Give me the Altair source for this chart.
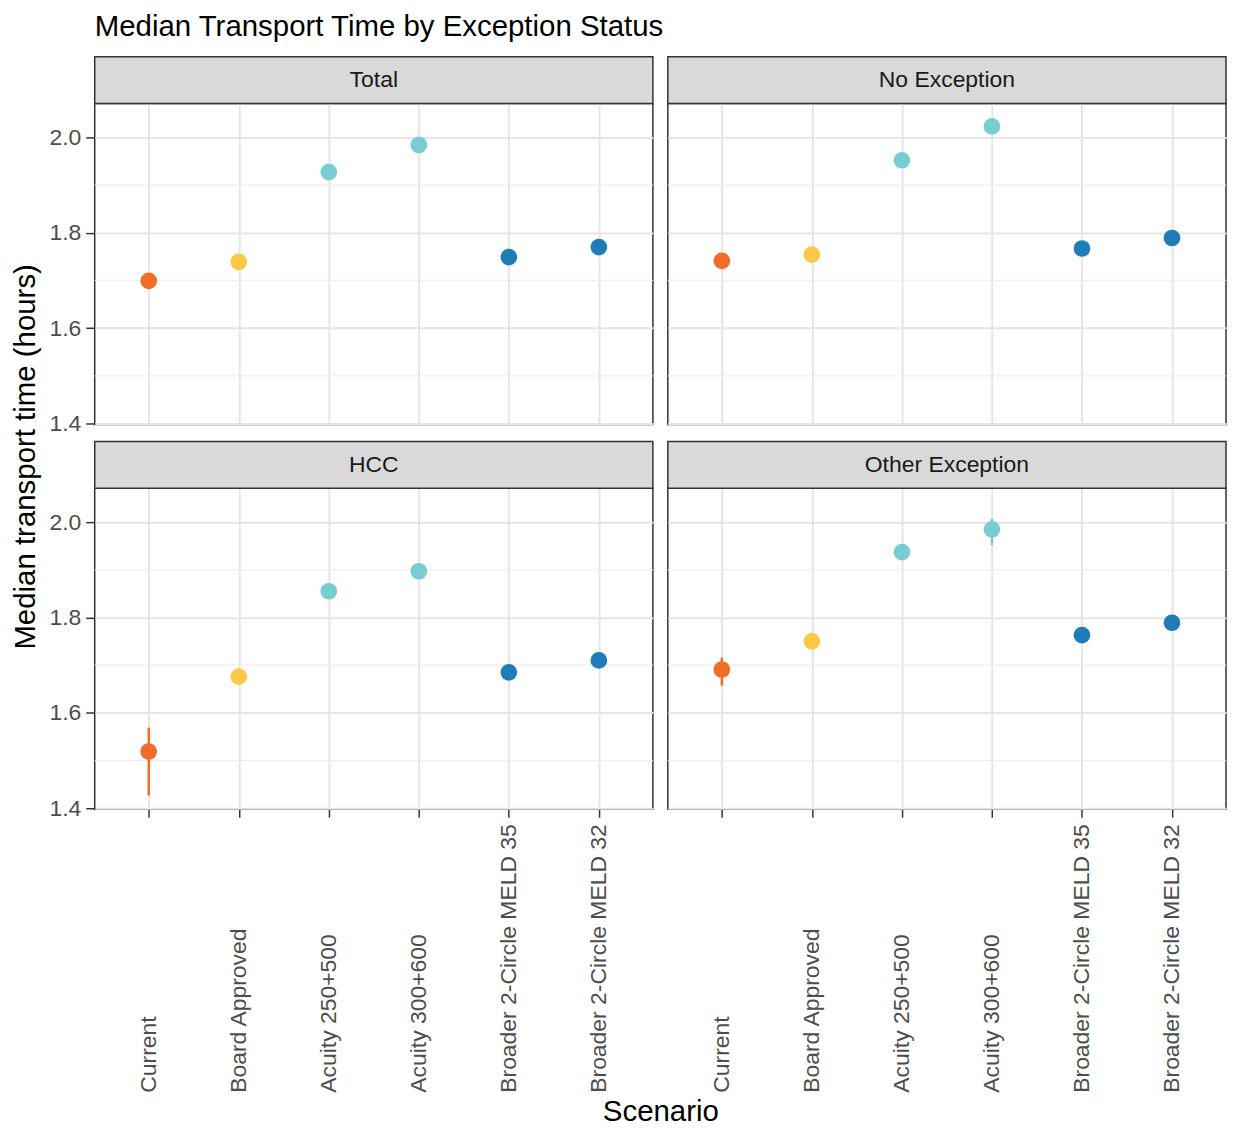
import altair as alt
import pandas as pd

# ---------------- data ----------------
scenarios = [
    "Current",
    "Board Approved",
    "Acuity 250+500",
    "Acuity 300+600",
    "Broader 2-Circle MELD 35",
    "Broader 2-Circle MELD 32",
]
scenario_colors = ["#F06E28", "#FDC846", "#78CDD2", "#78CDD2", "#1E7DB9", "#1E7DB9"]

panel_names = ["Total", "No Exception", "HCC", "Other Exception"]

total_median = [1.699, 1.739, 1.927, 1.984, 1.749, 1.770]
total_low = [1.692, 1.733, 1.921, 1.977, 1.743, 1.764]
total_high = [1.706, 1.745, 1.933, 1.991, 1.755, 1.776]

noexc_median = [1.741, 1.754, 1.952, 2.023, 1.767, 1.789]
noexc_low = [1.734, 1.748, 1.946, 2.016, 1.761, 1.783]
noexc_high = [1.748, 1.760, 1.958, 2.030, 1.773, 1.795]

hcc_median = [1.519, 1.676, 1.855, 1.897, 1.685, 1.710]
hcc_low = [1.427, 1.668, 1.847, 1.889, 1.678, 1.702]
hcc_high = [1.569, 1.684, 1.863, 1.905, 1.692, 1.718]

other_median = [1.691, 1.750, 1.937, 1.985, 1.763, 1.789]
other_low = [1.657, 1.741, 1.929, 1.952, 1.756, 1.782]
other_high = [1.716, 1.759, 1.945, 2.007, 1.770, 1.796]

y_ticks = [1.4, 1.6, 1.8, 2.0]
y_minor = [1.5, 1.7, 1.9]
y_domain = [1.398, 2.071]

panel_values = {
    "Total": (total_median, total_low, total_high),
    "No Exception": (noexc_median, noexc_low, noexc_high),
    "HCC": (hcc_median, hcc_low, hcc_high),
    "Other Exception": (other_median, other_low, other_high),
}

# ---------------- styling ----------------
W = 560
H = 322
GAP = 15
STRIP = 47
FONT = "Liberation Sans"
GRID_MAJOR = "#E5E5E5"
GRID_MINOR = "#EEEEEE"
DARK = "#333333"
LABEL = "#4D4D4D"

x_scale = alt.Scale(type="point", domain=scenarios, padding=0.6)
y_scale = alt.Scale(domain=y_domain, nice=False, zero=False)
color = alt.Color(
    "Scenario:N",
    scale=alt.Scale(domain=scenarios, range=scenario_colors),
    legend=None,
)


def x_axis(bottom, with_title):
    kw = dict(
        grid=True,
        gridColor=GRID_MAJOR,
        gridWidth=2,
        domain=False,
    )
    if bottom:
        kw.update(
            labels=True,
            labelAngle=270,
            labelAlign="left",
            labelBaseline="middle",
            labelPadding=276,
            labelLimit=400,
            labelOverlap=False,
            labelFontSize=23,
            labelColor=LABEL,
            labelFont=FONT,
            ticks=True,
            tickSize=8,
            tickWidth=1.5,
            tickColor=DARK,
        )
    else:
        kw.update(labels=False, ticks=False)
    if with_title:
        kw.update(
            title="Scenario",
            titleX=(2 * W + GAP) / 2,
            titleY=312,
            titleAlign="center",
            titleAnchor="start",
            titleBaseline="alphabetic",
            titleFontSize=29.5,
            titleFontWeight="normal",
            titleColor="#000000",
            titleFont=FONT,
        )
    else:
        kw.update(title=None)
    return alt.Axis(**kw)


def y_axis(left, with_title):
    kw = dict(
        values=y_ticks,
        grid=True,
        gridColor=GRID_MAJOR,
        gridWidth=2,
        domain=False,
    )
    if left:
        kw.update(
            labels=True,
            format=".1f",
            labelFontSize=23,
            labelColor=LABEL,
            labelFont=FONT,
            labelPadding=5,
            ticks=True,
            tickSize=9,
            tickWidth=1.5,
            tickColor=DARK,
        )
    else:
        kw.update(labels=False, ticks=False)
    if with_title:
        kw.update(
            title="Median transport time (hours)",
            titleX=-69,
            titleY=354,
            titleAngle=270,
            titleAlign="center",
            titleBaseline="middle",
            titleFontSize=29.5,
            titleFontWeight="normal",
            titleColor="#000000",
            titleFont=FONT,
        )
    else:
        kw.update(title=None)
    return alt.Axis(**kw)


def panel(name, left, bottom, x_title, y_title):
    med, lo, hi = panel_values[name]
    df = pd.DataFrame({"Scenario": scenarios, "median": med, "low": lo, "high": hi})
    base = alt.Chart(df)
    xa = x_axis(bottom, x_title)
    ya = y_axis(left, y_title)

    minor = (
        alt.Chart(pd.DataFrame({"minor": y_minor}))
        .mark_rule(color=GRID_MINOR, strokeWidth=1.2)
        .encode(y=alt.Y("minor:Q", scale=y_scale, axis=ya))
    )

    strip_df = pd.DataFrame({"label": [name]})
    strip_rect = (
        alt.Chart(strip_df)
        .mark_rect(fill="#D9D9D9", stroke=DARK, strokeWidth=1.5)
        .encode(
            x=alt.value(0),
            x2=alt.value(W),
            y=alt.value(-STRIP),
            y2=alt.value(0),
        )
    )
    strip_text = (
        alt.Chart(strip_df)
        .mark_text(fontSize=23, color="#1A1A1A", font=FONT, baseline="middle", align="center")
        .encode(x=alt.value(W / 2), y=alt.value(-STRIP / 2), text="label:N")
    )

    bars = base.mark_rule(strokeWidth=2.5).encode(
        x=alt.X("Scenario:N", scale=x_scale, axis=xa, sort=scenarios),
        y=alt.Y("low:Q", scale=y_scale, axis=ya),
        y2="high:Q",
        color=color,
    )
    points = base.mark_circle(size=280, opacity=1).encode(
        x=alt.X("Scenario:N", scale=x_scale, sort=scenarios, axis=xa),
        y=alt.Y("median:Q", scale=y_scale, axis=ya),
        color=color,
    )
    return alt.layer(minor, strip_rect, strip_text, bars, points).properties(width=W, height=H)


p_total = panel("Total", left=True, bottom=False, x_title=False, y_title=True)
p_noexc = panel("No Exception", left=False, bottom=False, x_title=False, y_title=False)
p_hcc = panel("HCC", left=True, bottom=True, x_title=True, y_title=False)
p_other = panel("Other Exception", left=False, bottom=True, x_title=False, y_title=False)

chart = (
    alt.concat(
        p_total, p_noexc, p_hcc, p_other,
        columns=2,
        spacing={"row": 64, "column": GAP},
        bounds="flush",
    )
    .properties(
        title=alt.TitleParams(
            "Median Transport Time by Exception Status",
            anchor="start",
            frame="group",
            offset=13,
            fontSize=29.5,
            fontWeight="normal",
            color="#000000",
            font=FONT,
        ),
        padding={"left": 2, "top": 2, "right": 0, "bottom": 0},
    )
    .configure(font=FONT)
    .configure_view(stroke=DARK, strokeWidth=1.5)
)

chart.save("out.html", embed_options={"renderer": "svg", "actions": False})
